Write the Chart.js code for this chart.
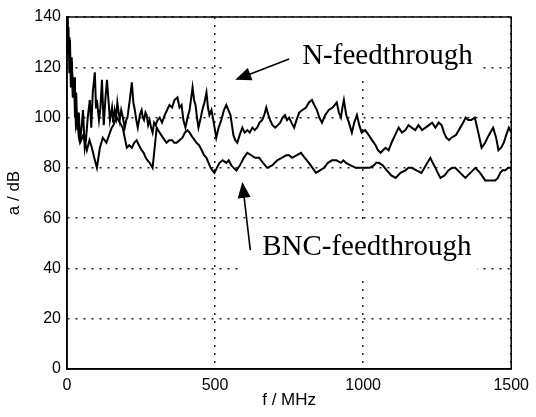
<!DOCTYPE html>
<html>
<head>
<meta charset="utf-8">
<script src="https://cdn.jsdelivr.net/npm/chart.js@4/dist/chart.umd.min.js"></script>
<style>
  html, body { margin: 0; padding: 0; background: #fff; }
  #wrap { width: 536px; height: 417px; position: relative; }
</style>
</head>
<body>
<div id="wrap"><canvas id="chart"></canvas></div>
<script>
// attenuation of the N-feedthrough (upper trace)
const nFreq = [0, 3, 5, 8, 10, 13, 16, 20, 24, 27, 31, 35, 40, 44, 50, 54, 60, 64, 70, 77, 82, 87, 94, 98, 101, 108, 113, 118, 124, 130, 135, 140, 145, 152, 156, 161, 166, 170, 178, 183, 187, 195, 200, 204, 212, 219, 224, 229, 234, 239, 246, 252, 256, 260, 265, 269, 274, 279, 284, 289, 294, 299, 306, 313, 321, 330, 338, 346, 355, 363, 373, 380, 387, 393, 400, 407, 414, 424, 429, 434, 439, 444, 450, 457, 464, 471, 476, 481, 488, 494, 504, 512, 521, 530, 538, 545, 552, 562, 568, 575, 583, 592, 600, 609, 617, 626, 634, 642, 650, 659, 666, 673, 680, 686, 694, 703, 712, 720, 728, 736, 743, 750, 758, 767, 775, 784, 795, 807, 817, 827, 835, 844, 852, 861, 872, 884, 897, 911, 918, 925, 930, 935, 943, 952, 962, 970, 979, 987, 995, 1007, 1019, 1030, 1042, 1050, 1059, 1067, 1076, 1086, 1096, 1108, 1120, 1131, 1143, 1153, 1164, 1176, 1187, 1199, 1211, 1222, 1233, 1244, 1255, 1265, 1273, 1281, 1290, 1298, 1313, 1328, 1338, 1346, 1355, 1365, 1377, 1389, 1400, 1412, 1420, 1429, 1439, 1449, 1457, 1466, 1475, 1483, 1492, 1500];
const nAtten = [140, 125, 136, 118, 131, 112, 124, 108, 116, 100, 110, 95, 102, 90, 97, 103, 88, 91, 100, 107, 96, 110, 118, 104, 107, 99, 104, 115, 97, 108, 115, 107, 99, 104, 98, 103, 100, 106, 99, 103, 101, 96, 99, 100, 107, 114, 106, 103, 99, 96, 101, 103, 100, 99, 102, 101, 97, 99, 96, 94, 98, 97, 99, 100, 98, 101, 103, 105, 104, 107, 108, 104, 105, 99, 96, 100, 103, 112, 107, 105, 100, 96, 99, 103, 106, 110, 104, 101, 103, 99, 92, 96, 99, 103, 105, 103, 101, 93, 91, 90, 93, 96, 94, 95, 94, 96, 95, 96, 98, 99, 101, 104, 101, 99, 97, 96, 97, 98, 100, 101, 99, 100, 98, 96, 99, 102, 103, 104, 106, 107, 105, 103, 100, 98, 101, 103, 104, 106, 102, 100, 104, 107, 101, 98, 94, 98, 101, 97, 94, 95, 93, 91, 89, 87, 86, 87, 88, 87, 90, 93, 96, 94, 95, 97, 96, 95, 97, 95, 96, 97, 98, 96, 98, 97, 94, 92, 91, 92, 93, 96, 98, 100, 99, 99, 100, 94, 88, 90, 92, 94, 96, 92, 87, 88, 90, 93, 96, 94, 95];

// attenuation of the BNC-feedthrough (lower trace)
const bncFreq = [0, 4, 8, 12, 16, 20, 25, 30, 35, 40, 44, 55, 67, 76, 84, 92, 101, 111, 121, 133, 145, 151, 157, 163, 168, 178, 188, 195, 202, 210, 219, 227, 235, 243, 252, 259, 266, 272, 279, 289, 296, 303, 313, 324, 336, 345, 355, 362, 370, 380, 390, 398, 407, 414, 425, 437, 446, 455, 463, 471, 478, 485, 491, 498, 506, 515, 526, 538, 546, 555, 563, 572, 584, 597, 609, 622, 635, 649, 662, 676, 693, 710, 725, 740, 750, 760, 775, 790, 803, 817, 829, 841, 854, 868, 881, 895, 910, 925, 933, 942, 958, 975, 992, 1009, 1022, 1036, 1044, 1053, 1066, 1080, 1095, 1110, 1126, 1143, 1153, 1164, 1180, 1197, 1212, 1227, 1235, 1244, 1252, 1261, 1275, 1288, 1300, 1311, 1328, 1345, 1362, 1379, 1395, 1412, 1429, 1446, 1455, 1463, 1471, 1480, 1490, 1500];
const bncAtten = [138, 128, 132, 118, 122, 108, 112, 97, 100, 92, 90, 93, 87, 91, 88, 84, 80, 88, 92, 90, 94, 96, 97, 99, 100, 98, 96, 92, 88, 89, 88, 90, 91, 89, 87, 86, 84, 83, 82, 80, 88, 96, 94, 92, 90, 91, 91, 90, 90, 91, 92, 94, 95, 94, 92, 90, 89, 87, 85, 84, 82, 80, 79, 78, 80, 82, 83, 82, 83, 81, 80, 79, 81, 84, 86, 85, 84, 84, 82, 80, 81, 83, 84, 85, 85, 84, 85, 86, 84, 82, 80, 78, 79, 80, 82, 83, 83, 82, 83, 82, 81, 80, 80, 80, 80, 81, 82, 82, 81, 79, 77, 76, 78, 79, 80, 80, 79, 78, 81, 84, 82, 80, 78, 76, 77, 79, 80, 80, 78, 76, 78, 80, 78, 75, 75, 75, 76, 78, 79, 79, 80, 80];

const xTicks = [0, 500, 1000, 1500];
const yTicks = [0, 20, 40, 60, 80, 100, 120, 140];

// text annotations, placed in data units
const labels = [
  { text: "N-feedthrough", x: 794, y: 121.3, box: [530, 1400, 116, 140], arrow: [750, 123.3, 568, 115] },
  { text: "BNC-feedthrough", x: 659, y: 45.3, box: [582, 1385, 37, 58], arrow: [619, 47.3, 592, 74.4] },
];

function toPoints(xs, ys) {
  return xs.map((x, i) => ({ x: x, y: ys[i] }));
}

function drawArrow(ctx, x1, y1, x2, y2) {
  const ang = Math.atan2(y2 - y1, x2 - x1);
  const len = 16, half = 6.5;
  ctx.beginPath();
  ctx.moveTo(x1, y1);
  ctx.lineTo(x2 - Math.cos(ang) * len * 0.8, y2 - Math.sin(ang) * len * 0.8);
  ctx.lineWidth = 1.6;
  ctx.strokeStyle = "#000";
  ctx.stroke();
  ctx.beginPath();
  ctx.moveTo(x2, y2);
  ctx.lineTo(x2 - Math.cos(ang) * len + Math.sin(ang) * half, y2 - Math.sin(ang) * len - Math.cos(ang) * half);
  ctx.lineTo(x2 - Math.cos(ang) * len - Math.sin(ang) * half, y2 - Math.sin(ang) * len + Math.cos(ang) * half);
  ctx.closePath();
  ctx.fillStyle = "#000";
  ctx.fill();
}

const annotationPlugin = {
  id: "annotations",
  beforeDatasetsDraw(chart) {
    const { ctx, scales: { x, y } } = chart;
    ctx.save();
    ctx.fillStyle = "#fff";
    labels.forEach((l) => {
      const x0 = x.getPixelForValue(l.box[0]);
      const x1 = x.getPixelForValue(l.box[1]);
      const y0 = y.getPixelForValue(l.box[3]);
      const y1 = y.getPixelForValue(l.box[2]);
      ctx.fillRect(x0, y0, x1 - x0, y1 - y0);
    });
    ctx.restore();
  },
  afterDraw(chart) {
    const { ctx, chartArea: a, scales: { x, y } } = chart;
    ctx.save();
    // full box frame
    ctx.strokeStyle = "#000";
    ctx.lineWidth = 1.5;
    ctx.strokeRect(a.left, a.top, a.right - a.left, a.bottom - a.top);
    ctx.font = "29px 'Liberation Serif', 'Times New Roman', serif";
    ctx.fillStyle = "#000";
    ctx.textBaseline = "alphabetic";
    labels.forEach((l) => {
      ctx.fillText(l.text, x.getPixelForValue(l.x), y.getPixelForValue(l.y));
      drawArrow(ctx,
        x.getPixelForValue(l.arrow[0]), y.getPixelForValue(l.arrow[1]),
        x.getPixelForValue(l.arrow[2]), y.getPixelForValue(l.arrow[3]));
    });
    ctx.restore();
  },
};

const tickFont = { family: "'Liberation Sans', Arial, sans-serif", size: 16 };
const titleFont = { family: "'Liberation Sans', Arial, sans-serif", size: 17 };

new Chart(document.getElementById("chart"), {
  type: "line",
  data: {
    datasets: [
      {
        label: "N-feedthrough",
        data: toPoints(nFreq, nAtten),
        borderColor: "#000",
        borderWidth: 2,
        pointRadius: 0,
        tension: 0,
      },
      {
        label: "BNC-feedthrough",
        data: toPoints(bncFreq, bncAtten),
        borderColor: "#000",
        borderWidth: 2,
        pointRadius: 0,
        tension: 0,
      },
    ],
  },
  options: {
    responsive: true,
    maintainAspectRatio: false,
    animation: false,
    layout: { padding: { left: 0, top: 17, right: 23, bottom: 0 } },
    plugins: {
      legend: { display: false },
      tooltip: { enabled: false },
    },
    scales: {
      x: {
        type: "linear",
        min: 0,
        max: 1500,
        afterBuildTicks: (s) => { s.ticks = xTicks.map((v) => ({ value: v })); },
        afterFit: (s) => { s.height = 48; },
        ticks: { font: tickFont, color: "#000", padding: 7, maxRotation: 0, callback: (v) => String(v) },
        grid: { color: "#222", lineWidth: 1.5, drawTicks: false },
        border: { display: true, color: "#000", width: 1.5, dash: [2, 6] },
        title: {
          display: true,
          text: "f / MHz",
          color: "#000",
          font: titleFont,
          padding: { top: 0, bottom: 6 },
        },
      },
      y: {
        type: "linear",
        min: 0,
        max: 140,
        afterBuildTicks: (s) => { s.ticks = yTicks.map((v) => ({ value: v })); },
        afterFit: (s) => { s.width = 67; },
        ticks: { font: tickFont, color: "#000", padding: 6, callback: (v) => String(v) },
        grid: { color: "#222", lineWidth: 1.5, drawTicks: false },
        border: { display: true, color: "#000", width: 1.5, dash: [2, 6] },
        title: {
          display: true,
          text: "a / dB",
          color: "#000",
          font: titleFont,
          padding: { top: 4, bottom: 0 },
        },
      },
    },
  },
  plugins: [annotationPlugin],
});
</script>
</body>
</html>
